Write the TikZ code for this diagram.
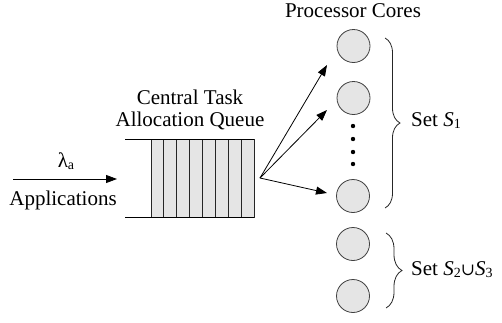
\documentclass[tikz,border=0pt]{standalone}
\usepackage{fontspec}
\setmainfont{Liberation Serif}
\newfontfamily\symf{DejaVu Serif}
\usetikzlibrary{arrows.meta,decorations.pathreplacing}
\newcommand{\subn}[1]{\raisebox{-2pt}{\fontsize{14}{14}\selectfont #1}}
\begin{document}
\begin{tikzpicture}[x=1pt,y=-1pt,
 lbl/.style={font=\fontsize{21}{24}\selectfont, inner sep=0pt},
 core/.style={circle, draw=black!75, fill=black!10, minimum size=33pt, inner sep=0pt, line width=0.8pt},
 cell/.style={draw=black!85, fill=black!10, line width=0.8pt},
 arr/.style={-{Triangle[length=11pt,width=8pt]}, line width=0.8pt},
 brc/.style={decorate, decoration={brace, amplitude=15pt}, line width=0.8pt, draw=black!85}]
\useasboundingbox (0,0) rectangle (502,322);
% queue
\foreach \i in {0,...,7}
  \draw[cell] ({151+\i*12.875},139) rectangle ({151+(\i+1)*12.875},217);
\draw[line width=0.8pt] (125,139) -- (254,139);
\draw[line width=0.8pt] (125,217) -- (254,217);
\node[inner sep=0pt, minimum width=129pt, minimum height=78pt] (queue) at (189.5,178) {};
\node[lbl, align=center] (qlabel) at (190,110) {Central Task\\[-2pt]Allocation Queue};
% input
\coordinate (src) at (13,179);
\coordinate (qin) at (117,179);
\draw[arr] (src) -- (qin);
\node[lbl] (lam) at (66,161) {λ\subn{a}};
\node[lbl] (apps) at (63,200) {Applications};
% cores
\node[lbl] (pc) at (353,11) {Processor Cores};
\node[core] (c1) at (353.5,46) {};
\node[core] (c2) at (353.5,98) {};
\node[core] (c3) at (353,196) {};
\node[core] (c4) at (353,244) {};
\node[core] (c5) at (353,296) {};
\foreach \y in {126,139,152,164}
  \fill (353,\y) circle (2.2pt);
% fan-out
\coordinate (qout) at (260,178);
\coordinate (t1) at (327,65);
\coordinate (t2) at (327,110);
\coordinate (t3) at (327,193);
\draw[arr] (qout) -- (t1);
\draw[arr] (qout) -- (t2);
\draw[arr] (qout) -- (t3);
% braces
\coordinate (b1a) at (385,38);
\coordinate (b1b) at (385,208);
\coordinate (b2a) at (386,233);
\coordinate (b2b) at (386,308);
\draw[brc] (b1a) -- (b1b);
\draw[brc, decoration={brace, amplitude=16pt}] (b2a) -- (b2b);
\node[lbl, anchor=west] (s1) at (411,121) {Set \textit{S}\subn{1}};
\node[lbl, anchor=west] (s23) at (411,270) {Set \textit{S}\subn{2}{\symf\fontsize{17}{17}\selectfont ∪}\textit{S}\subn{3}};
\end{tikzpicture}
\end{document}
